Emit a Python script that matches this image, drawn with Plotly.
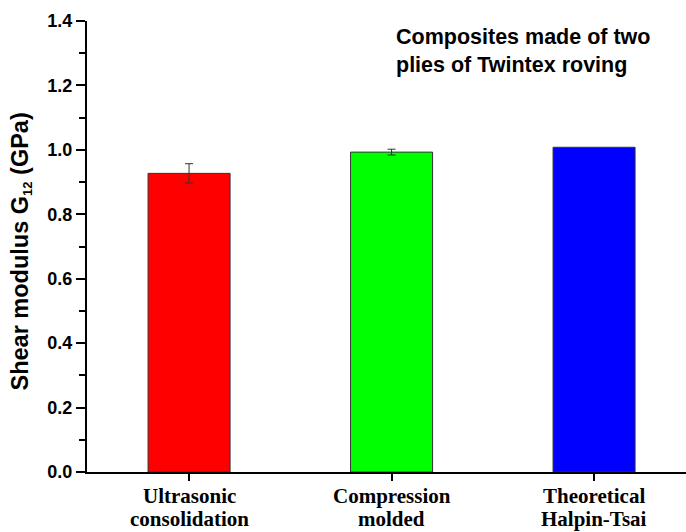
import plotly.graph_objects as go

# Shear modulus G12 of two-ply Twintex composites
categories = ["Ultrasonic<br>consolidation", "Compression<br>molded", "Theoretical<br>Halpin-Tsai"]
modulus = [0.927, 0.993, 1.008]
modulus_err = [0.030, 0.009, None]
bar_colors = ["#FF0000", "#00FF00", "#0000FF"]
y_ticks = [0.0, 0.2, 0.4, 0.6, 0.8, 1.0, 1.2, 1.4]

PLOT_TOP, PLOT_BOTTOM = 21, 472   # plot area edges in pixels
PLOT_H = PLOT_BOTTOM - PLOT_TOP

fig = go.Figure()
for cat, val, err, col in zip(categories, modulus, modulus_err, bar_colors):
    trace = go.Bar(
        x=[cat], y=[val], width=0.405,
        marker=dict(color=col, line=dict(color="#333333", width=1)),
        showlegend=False,
    )
    if err is not None:
        trace.error_y = dict(type="data", array=[err], visible=True,
                             color="#333333", thickness=1, width=4)
    fig.add_trace(trace)

fig.update_layout(
    width=686, height=532,
    margin=dict(l=87, r=0, t=PLOT_TOP, b=532 - PLOT_BOTTOM, autoexpand=False),
    paper_bgcolor="white", plot_bgcolor="white",
    barmode="overlay",
    font=dict(family="Liberation Sans, Arial", color="black"),
)

fig.update_xaxes(
    type="category", categoryorder="array", categoryarray=categories,
    range=[-0.504, 2.454], automargin=False,
    showline=True, linecolor="black", linewidth=2,
    ticks="outside", ticklen=7, tickwidth=2, tickcolor="black",
    showticklabels=False,
    showgrid=False, zeroline=False,
)

fig.update_yaxes(
    range=[0, 1.4], tickvals=y_ticks, automargin=False,
    ticktext=["<b>%.1f</b>" % v for v in y_ticks],
    showline=True, linecolor="black", linewidth=2,
    ticks="outside", ticklen=9, tickwidth=2, tickcolor="black",
    minor=dict(dtick=0.1, ticks="outside", ticklen=6, tickwidth=2, tickcolor="black"),
    showgrid=False, zeroline=False,
    tickfont=dict(family="Liberation Sans, Arial", size=18, color="black"),
)

# two-line category labels under each bar, set tighter than default line spacing
label_font = dict(family="Liberation Serif, Times New Roman", size=21, color="black")
for cat in categories:
    for i, line in enumerate(cat.split("<br>")):
        y_px = 496 + 23 * i
        fig.add_annotation(
            x=cat, xref="x", yref="paper", y=(PLOT_BOTTOM - y_px) / PLOT_H,
            text="<b>%s</b>" % line, showarrow=False,
            xanchor="center", yanchor="middle", font=label_font,
        )

# y-axis title
fig.add_annotation(
    xref="paper", yref="paper", x=0, y=0.5, xshift=-66, yshift=-5,
    text="<b>Shear modulus G<sub><span style='font-size:13px'>12</span></sub> (GPa)</b>",
    textangle=-90, showarrow=False, xanchor="center", yanchor="middle",
    font=dict(family="Liberation Sans, Arial", size=23.5, color="black"),
)

# caption inside the plot
fig.add_annotation(
    xref="paper", yref="paper", x=(394 - 87) / 599, y=1 - (23 - PLOT_TOP) / PLOT_H,
    text="<b>Composites made of two<br>plies of Twintex roving</b>",
    showarrow=False, xanchor="left", yanchor="top", align="left",
    font=dict(family="Liberation Sans, Arial", size=21.5, color="black"),
)

fig.write_html("out.html")
